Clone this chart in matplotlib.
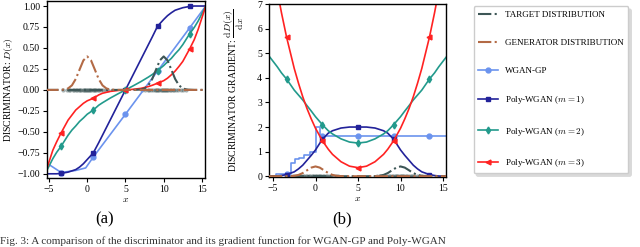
import numpy as np
import matplotlib
matplotlib.use("Agg")
import matplotlib.pyplot as plt

plt.rcParams['font.family'] = ['Liberation Serif', 'DejaVu Serif']
plt.rcParams['mathtext.fontset'] = 'cm'

# ---------------------------------------------------- data ----------------------------------------------------
# common grid (x) for the smooth curves
x_grid = [-5.5, -4.5, -4.0, -3.4, -2.5, -2.0, -1.5, -1.0, -0.5, 0.0, 0.8, 1.5, 2.0, 3.0, 4.0, 5.0,
          6.0, 7.0, 8.0, 8.5, 9.2, 10.0, 10.5, 11.0, 11.5, 12.0, 12.5, 13.4, 14.0, 14.5, 15.5]

# (a) discriminator
d_poly1 = [-1.0, -1.0, -1.0, -0.995, -0.98, -0.965, -0.95, -0.92, -0.88, -0.83, -0.75, -0.63, -0.54, -0.36, -0.18, 0.0,
           0.18, 0.36, 0.54, 0.63, 0.76, 0.84, 0.885, 0.92, 0.95, 0.965, 0.98, 0.995, 1.0, 1.0, 1.0]
d_poly2 = [-1.0, -0.82, -0.745, -0.67, -0.54, -0.479, -0.43, -0.376, -0.335, -0.29, -0.24, -0.183, -0.153, -0.098, -0.048, 0.0,
           0.048, 0.098, 0.153, 0.183, 0.23, 0.29, 0.335, 0.376, 0.43, 0.479, 0.54, 0.67, 0.745, 0.82, 1.0]
d_poly3 = [-1.0, -0.72, -0.62, -0.51, -0.36, -0.30, -0.24, -0.20, -0.16, -0.13, -0.10, -0.06, -0.04, -0.018, -0.007, 0.0,
           0.007, 0.018, 0.04, 0.055, 0.08, 0.11, 0.14, 0.18, 0.225, 0.28, 0.34, 0.49, 0.6, 0.72, 1.0]
x_wgan_a = [-5.5, -3.4, -1.5, -0.2, 0.8, 5.0, 9.2, 13.4, 15.5]
d_wgan = [-0.86, -0.985, -0.96, -0.93, -0.80, -0.29, 0.225, 0.74, 1.0]

# (b) discriminator gradient
g_poly1 = [0.0, 0.01, 0.03, 0.07, 0.18, 0.3, 0.45, 0.65, 0.85, 1.07, 1.5, 1.75, 1.85, 1.96, 2.0, 2.0,
           2.0, 1.96, 1.85, 1.75, 1.5, 1.07, 0.85, 0.65, 0.45, 0.3, 0.18, 0.07, 0.03, 0.01, 0.0]
g_poly2 = [4.9, 4.45, 4.2, 3.95, 3.5, 3.3, 3.1, 2.87, 2.65, 2.42, 2.1, 1.85, 1.72, 1.52, 1.39, 1.35,
           1.39, 1.52, 1.72, 1.85, 2.1, 2.42, 2.65, 2.87, 3.1, 3.3, 3.5, 3.95, 4.2, 4.45, 4.9]
g_poly3 = [9.7, 7.55, 6.64, 5.65, 4.38, 3.78, 3.23, 2.75, 2.33, 1.95, 1.45, 1.10, 0.89, 0.59, 0.41, 0.35,
           0.41, 0.59, 0.89, 1.10, 1.45, 1.95, 2.33, 2.75, 3.23, 3.78, 4.38, 5.65, 6.64, 7.55, 9.7]
x_wgan_b = [-5.5, -4.6, -3.4, -2.9, -2.4, -1.9, -1.4, -0.6, 0.0, 0.5, 0.8, 5.0, 9.2, 13.4, 15.5]
g_wgan = [0.0, 0.1, 0.1, 0.55, 0.7, 0.75, 0.85, 1.0, 2.0, 1.65, 1.65, 1.65, 1.65, 1.65, 1.65]

# densities
x_pdf = [-5.5, -4.0, -3.0, -2.5, -2.0, -1.5, -1.0, -0.5, 0.0, 0.5, 1.0, 1.5, 2.0, 2.5, 3.0, 4.0,
         5.0, 6.0, 7.0, 7.5, 8.0, 8.5, 9.0, 9.5, 10.0, 10.5, 11.0, 11.5, 12.0, 12.5, 13.0, 14.0, 15.5]
gen_pdf = [0.0, 0.0, 0.004, 0.018, 0.054, 0.13, 0.242, 0.352, 0.399, 0.352, 0.242, 0.13, 0.054, 0.018, 0.004, 0.0,
           0.0, 0.0, 0.0, 0.0, 0.0, 0.0, 0.0, 0.0, 0.0, 0.0, 0.0, 0.0, 0.0, 0.0, 0.0, 0.0, 0.0]
target_pdf = [0.0, 0.0, 0.0, 0.0, 0.0, 0.0, 0.0, 0.0, 0.0, 0.0, 0.0, 0.0, 0.0, 0.0, 0.0, 0.0,
              0.0, 0.0, 0.004, 0.018, 0.054, 0.13, 0.242, 0.352, 0.399, 0.352, 0.242, 0.13, 0.054, 0.018, 0.004, 0.0, 0.0]

# samples drawn on the x axis
gen_samples = [-3.1, -2.7, -2.4, -2.2, -1.9, -1.7, -1.5, -1.3, -1.1, -0.95, -0.8, -0.6, -0.45, -0.3, -0.15,
               0.0, 0.1, 0.25, 0.4, 0.55, 0.7, 0.85, 1.0, 1.2, 1.4, 1.6, 1.85, 2.1, 2.4, 2.7]
target_samples = [7.2, 7.6, 7.9, 8.1, 8.4, 8.6, 8.8, 9.0, 9.15, 9.3, 9.45, 9.6, 9.75, 9.9, 10.0,
                  10.15, 10.3, 10.45, 10.6, 10.8, 11.0, 11.2, 11.4, 11.6, 11.9, 12.2, 12.5, 12.9]

marker_x = [-3.4, 0.8, 5.0, 9.2, 13.4]

c_target = '#3d5656'
c_gen = '#b36a45'
c_wgan = '#6b93ee'
c_p1 = '#22229a'
c_p2 = '#229a8c'
c_p3 = '#ff2222'


def mark_idx(xs):
    return [i for i, v in enumerate(xs) if any(abs(v - m) < 1e-6 for m in marker_x)]


fig = plt.figure(figsize=(6.4, 2.47), dpi=100)
ax_a = fig.add_axes([0.0734, 0.2794, 0.2469, 0.7166])
ax_b = fig.add_axes([0.4203, 0.2834, 0.2766, 0.7004])

lw = 1.2
ms = 3.5
for ax in (ax_a, ax_b):
    ax.scatter(gen_samples, np.zeros(len(gen_samples)), s=9, color=c_target, alpha=0.45, lw=0, zorder=2)
    ax.scatter(target_samples, np.zeros(len(target_samples)), s=9, color=c_target, alpha=0.45, lw=0, zorder=2)
    ax.plot(x_pdf, target_pdf, ls='-.', color=c_target, lw=1.5, label='TARGET DISTRIBUTION', zorder=3)
    ax.plot(x_pdf, gen_pdf, ls='-.', color=c_gen, lw=1.5, label='GENERATOR DISTRIBUTION', zorder=3)

# (a)
ax_a.plot(x_wgan_a, d_wgan, color=c_wgan, lw=lw, marker='o', ms=ms, markevery=mark_idx(x_wgan_a), label='WGAN-GP')
ax_a.plot(x_grid, d_poly1, color=c_p1, lw=lw, marker='s', ms=ms, markevery=mark_idx(x_grid), label='Poly-WGAN ($m=1$)')
ax_a.plot(x_grid, d_poly2, color=c_p2, lw=lw, marker='d', ms=ms, markevery=mark_idx(x_grid), label='Poly-WGAN ($m=2$)')
ax_a.plot(x_grid, d_poly3, color=c_p3, lw=lw, marker='<', ms=ms, markevery=mark_idx(x_grid), label='Poly-WGAN ($m=3$)')

# (b)
ax_b.plot(x_wgan_b, g_wgan, color=c_wgan, lw=lw, marker='o', ms=ms, drawstyle='steps-post',
          markevery=mark_idx(x_wgan_b))
ax_b.plot(x_grid, g_poly1, color=c_p1, lw=lw, marker='s', ms=ms, markevery=mark_idx(x_grid))
ax_b.plot(x_grid, g_poly2, color=c_p2, lw=lw, marker='d', ms=ms, markevery=mark_idx(x_grid))
ax_b.plot(x_grid, g_poly3, color=c_p3, lw=lw, marker='<', ms=ms, markevery=mark_idx(x_grid))

ax_a.set_xlim(-5.26, 15.4)
ax_a.set_ylim(-1.05, 1.06)
ax_a.set_yticks([-1.0, -0.75, -0.5, -0.25, 0.0, 0.25, 0.5, 0.75, 1.0])
ax_a.set_yticklabels(['%.2f' % v if v >= 0 else '\u2212%.2f' % -v for v in ax_a.get_yticks()])
ax_a.set_ylabel('DISCRIMINATOR: $D(x)$', fontsize=7, labelpad=2)

ax_b.set_xlim(-5.47, 15.35)
ax_b.set_ylim(-0.03, 7.0)
ax_b.set_yticks(range(8))
ax_b.set_ylabel('DISCRIMINATOR GRADIENT: $\\dfrac{\\mathrm{d}D(x)}{\\mathrm{d}x}$', fontsize=7, labelpad=2)
ax_b.yaxis.set_label_coords(-0.13, 0.5)

for ax in (ax_a, ax_b):
    ax.set_xticks([-5, 0, 5, 10, 15])
    ax.set_xlabel('$x$', fontsize=7, labelpad=1)
    ax.tick_params(labelsize=7, length=3, width=0.8, pad=2)
    for s in ax.spines.values():
        s.set_linewidth(1.0)

handles, labels = ax_a.get_legend_handles_labels()
fig.legend(handles, labels, loc='center', bbox_to_anchor=(0.861, 0.636), fontsize=6.5,
           labelspacing=2.15, handlelength=2.2, borderpad=0.5, fancybox=True,
           edgecolor='#cccccc', framealpha=1, shadow={'color': '0.85', 'alpha': 1})

fig.text(0.164, 0.113, '(a)', fontsize=12, ha='center', va='center')
fig.text(0.535, 0.113, '(b)', fontsize=12, ha='center', va='center')
fig.text(0.0, 0.004, 'Fig. 3: A comparison of the discriminator and its gradient function for WGAN-GP and Poly-WGAN',
         fontsize=8, ha='left', va='bottom', color='#333333')

fig.savefig('out.png', dpi=100)
